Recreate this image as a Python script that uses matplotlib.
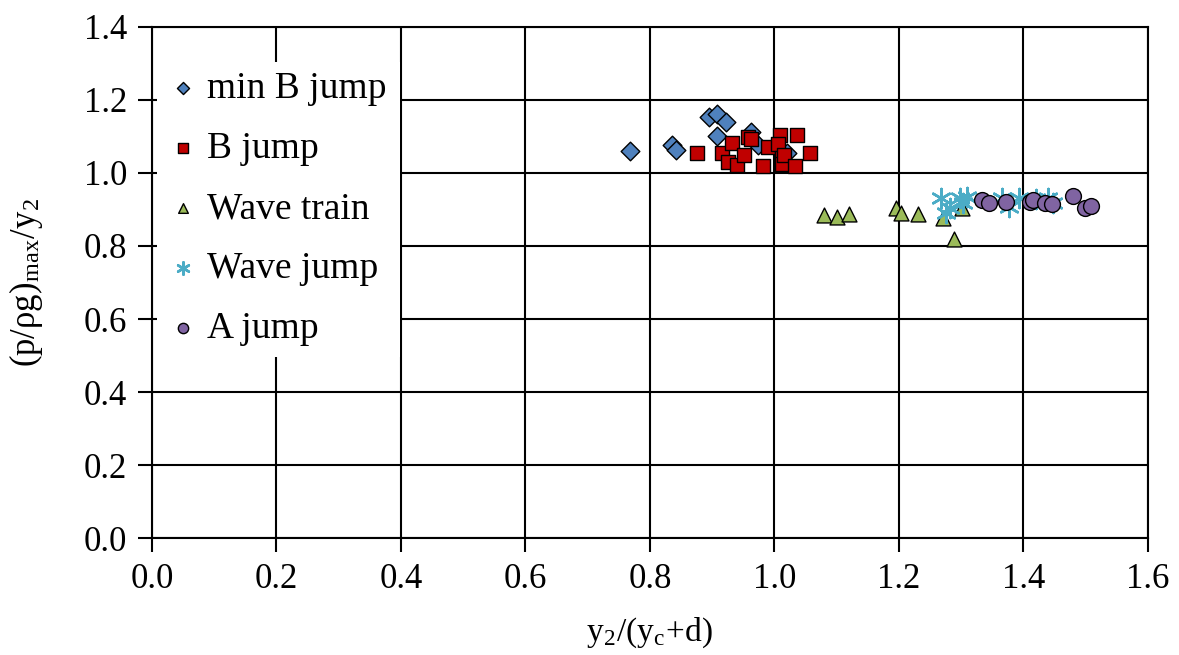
import matplotlib
matplotlib.use("Agg")
import matplotlib.pyplot as plt
from matplotlib.patches import Rectangle

plt.rcParams['font.family'] = ['Liberation Serif', 'DejaVu Serif']
plt.rcParams['mathtext.fontset'] = 'stix'

# measured pressure ratios, grouped by jump type
minb_x = [0.768, 0.835, 0.842, 0.895, 0.908, 0.922, 0.907, 0.963, 0.974, 1.020]
minb_y = [1.060, 1.077, 1.063, 1.153, 1.162, 1.139, 1.101, 1.113, 1.077, 1.054]

bjump_x = [0.876, 0.916, 0.931, 0.926, 0.939, 0.951, 0.957, 0.963, 0.982, 0.990,
           1.009, 1.005, 1.012, 1.012, 1.015, 1.036, 1.033, 1.057]
bjump_y = [1.054, 1.056, 1.081, 1.031, 1.022, 1.049, 1.099, 1.092, 1.019, 1.070,
           1.104, 1.079, 1.040, 1.025, 1.049, 1.104, 1.019, 1.054]

train_x = [1.080, 1.100, 1.119, 1.195, 1.204, 1.231, 1.270, 1.288, 1.301]
train_y = [0.885, 0.880, 0.889, 0.903, 0.891, 0.887, 0.878, 0.818, 0.903]

wjump_x = [1.268, 1.276, 1.282, 1.298, 1.303, 1.309, 1.365, 1.376, 1.392, 1.420, 1.440, 1.448]
wjump_y = [0.931, 0.890, 0.905, 0.931, 0.917, 0.935, 0.931, 0.908, 0.931, 0.929, 0.931, 0.917]

ajump_x = [1.333, 1.344, 1.372, 1.410, 1.415, 1.434, 1.446, 1.480, 1.499, 1.508]
ajump_y = [0.926, 0.917, 0.920, 0.920, 0.926, 0.917, 0.914, 0.937, 0.905, 0.910]

fig = plt.figure(figsize=(11.79, 6.55), dpi=100)
ax = fig.add_axes([0.1289, 0.1786, 0.8448, 0.7802])

ax.scatter(minb_x, minb_y, marker='D', s=90, c='#4F81BD', edgecolors='black', linewidths=1.0, zorder=3, label='min B jump')
ax.scatter(bjump_x, bjump_y, marker='s', s=100, c='#C00000', edgecolors='black', linewidths=1.0, zorder=3, label='B jump')
ax.scatter(train_x, train_y, marker='^', s=115, c='#9BBB59', edgecolors='black', linewidths=1.0, zorder=3, label='Wave train')
ax.scatter(wjump_x, wjump_y, marker=(6, 2, 0), s=190, c='#4BACC6', linewidths=1.8, zorder=3, label='Wave jump')
ax.scatter(ajump_x, ajump_y, marker='o', s=130, c='#8064A2', edgecolors='black', linewidths=1.0, zorder=3, label='A jump')

ax.set_xlim(0, 1.6)
ax.set_ylim(0, 1.4)
ax.set_xticks([i * 0.2 for i in range(9)])
ax.set_yticks([i * 0.2 for i in range(8)])
ax.set_xticklabels([f'{i * 0.2:.1f}' for i in range(9)])
ax.set_yticklabels([f'{i * 0.2:.1f}' for i in range(8)])
ax.grid(True, color='black', linewidth=1.5)
ax.set_axisbelow(True)
for sp in ax.spines.values():
    sp.set_linewidth(1.5)
ax.tick_params(direction='out', length=10, width=1.5, labelsize=25, pad=8)

ax.set_xlabel(r'y$_\mathregular{2}$/(y$_\mathregular{c}$+d)', fontsize=24, labelpad=14)
ax.set_ylabel(r'(p/ρg)$_\mathregular{max}$/y$_\mathregular{2}$', fontsize=25, labelpad=28)

# white box behind the legend hides the grid there
ax.add_patch(Rectangle((0.005, 0.354), 0.244, 0.577, transform=ax.transAxes,
                       facecolor='white', edgecolor='none', zorder=2))
leg = ax.legend(loc='upper left', bbox_to_anchor=(-0.018, 0.971), frameon=False,
                fontsize=27, markerscale=0.65, handletextpad=0.15, labelspacing=0.68,
                borderpad=0.3, handlelength=1.0)
leg.set_zorder(4)

fig.savefig('out.png', dpi=100)
